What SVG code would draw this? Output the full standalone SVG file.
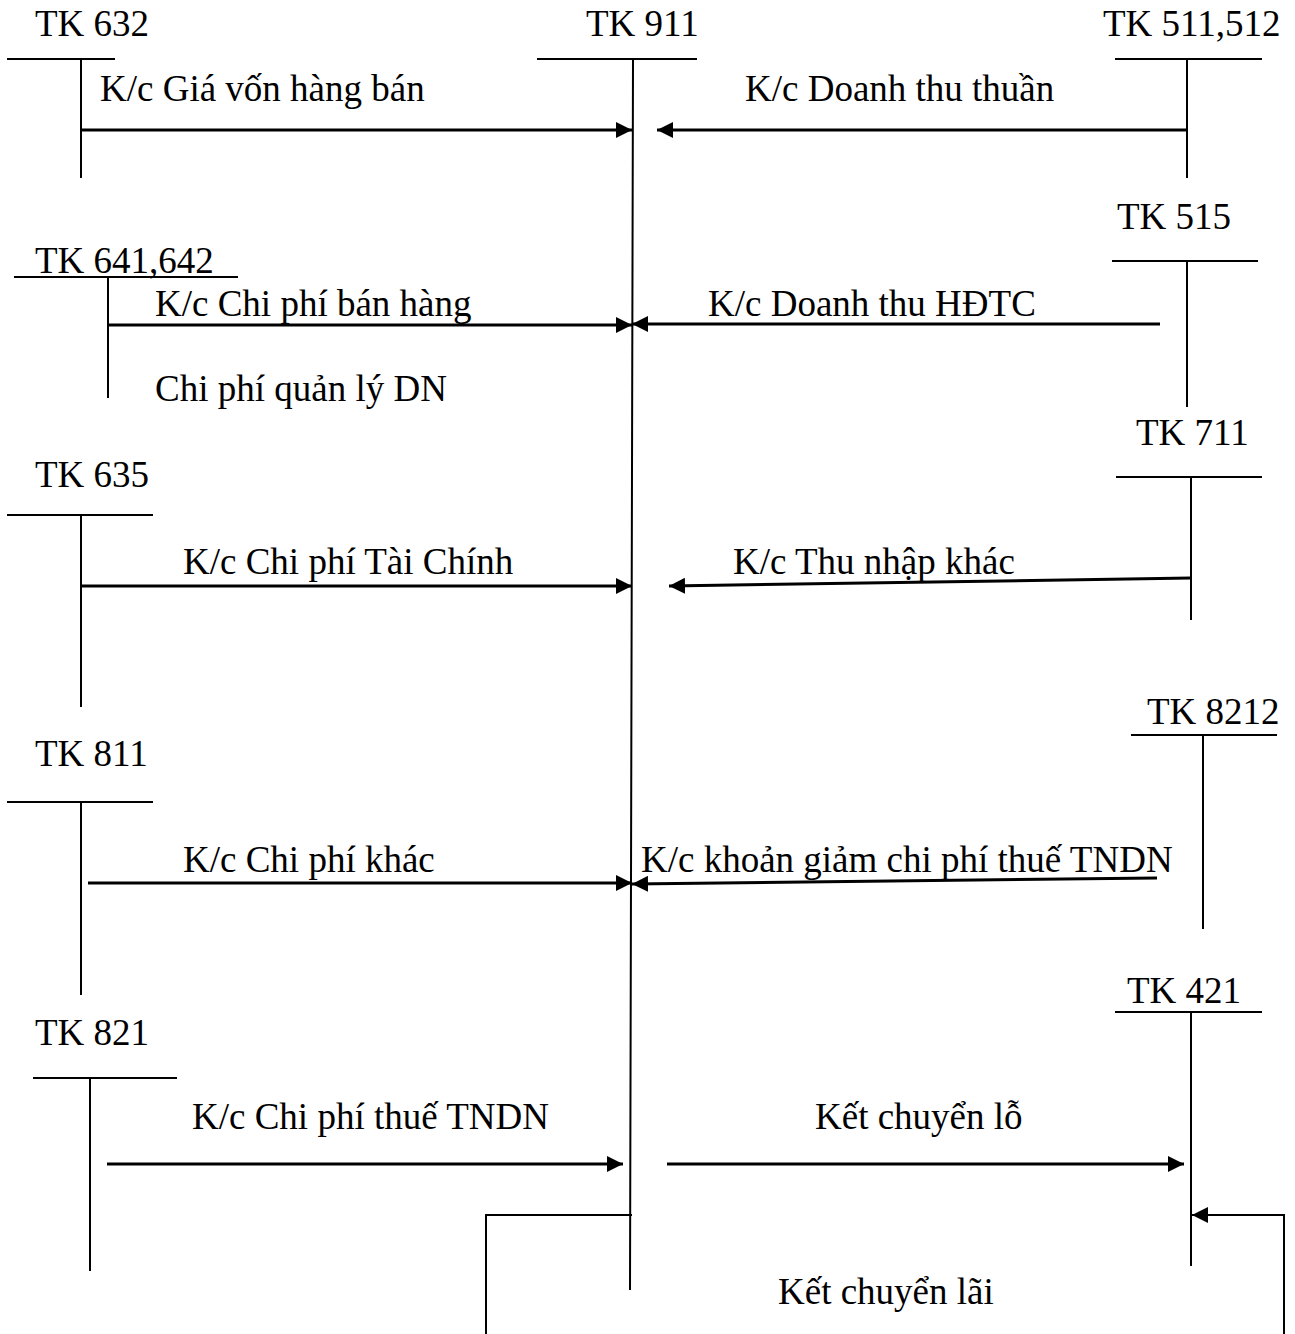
<svg xmlns="http://www.w3.org/2000/svg" width="1295" height="1334" viewBox="0 0 1295 1334">
<style>
text{font-family:"Liberation Serif","Times New Roman",serif;font-size:37px;fill:#000}
.t{stroke:#000;stroke-width:2;fill:none}
.a{stroke:#000;stroke-width:3;fill:none;marker-end:url(#ah)}
</style>
<defs>
<marker id="ah" markerUnits="userSpaceOnUse" markerWidth="17" markerHeight="16" refX="16" refY="8" orient="auto" viewBox="0 0 17 16">
<path d="M0,0 L16,8 L0,16 z" fill="#000"/>
</marker>
</defs>
<rect width="1295" height="1334" fill="#fff"/>
<g id="tk911"><text x="586" y="36">TK 911</text><path class="t" d="M537,59H697M633,59L630,1290"/></g>
<g id="tk632"><text x="35" y="36">TK 632</text><path class="t" d="M7,59H115M81,59V178"/></g>
<g id="tk511"><text x="1103" y="36">TK 511,512</text><path class="t" d="M1115,59H1262M1187,59V178"/></g>
<g id="tk515"><text x="1117" y="229">TK 515</text><path class="t" d="M1112,261H1258M1187,261V407"/></g>
<g id="tk641"><text x="35" y="273">TK 641,642</text><path class="t" d="M14,277H238M108,277V398"/></g>
<g id="tk711"><text x="1136" y="445">TK 711</text><path class="t" d="M1116,477H1262M1191,477V620"/></g>
<g id="tk635"><text x="35" y="487">TK 635</text><path class="t" d="M7,515H153M81,515V707"/></g>
<g id="tk8212"><text x="1147" y="724">TK 8212</text><path class="t" d="M1131,735H1277M1203,735V929"/></g>
<g id="tk811"><text x="35" y="766">TK 811</text><path class="t" d="M7,802H153M81,802V995"/></g>
<g id="tk421"><text x="1127" y="1003">TK 421</text><path class="t" d="M1115,1012H1262M1191,1012V1266"/></g>
<g id="tk821"><text x="35" y="1045">TK 821</text><path class="t" d="M33,1078H177M90,1078V1271"/></g>
<g id="connectors">
<path class="a" d="M81,130H632"/>
<path class="a" d="M1187,130H657"/>
<path class="a" d="M108,325H632"/>
<path class="a" d="M1160,324H632"/>
<path class="a" d="M81,586H632"/>
<path class="a" d="M1191,578L669,586"/>
<path class="a" d="M88,883H632"/>
<path class="a" d="M1157,878L632,884"/>
<path class="a" d="M107,1164H623"/>
<path class="a" d="M667,1164H1184"/>
<path class="t" d="M632,1215H486V1334"/>
<path class="t" d="M1284,1334V1215H1192" style="marker-end:url(#ah)"/>
</g>
<g id="labels">
<text x="100" y="101">K/c Giá vốn hàng bán</text>
<text x="745" y="101">K/c Doanh thu thuần</text>
<text x="155" y="316">K/c Chi phí bán hàng</text>
<text x="708" y="316">K/c Doanh thu HĐTC</text>
<text x="155" y="401">Chi phí quản lý DN</text>
<text x="183" y="574">K/c Chi phí Tài Chính</text>
<text x="733" y="574">K/c Thu nhập khác</text>
<text x="183" y="872">K/c Chi phí khác</text>
<text x="641" y="872">K/c khoản giảm chi phí thuế TNDN</text>
<text x="192" y="1129">K/c Chi phí thuế TNDN</text>
<text x="815" y="1129">Kết chuyển lỗ</text>
<text x="778" y="1304">Kết chuyển lãi</text>
</g>
</svg>
